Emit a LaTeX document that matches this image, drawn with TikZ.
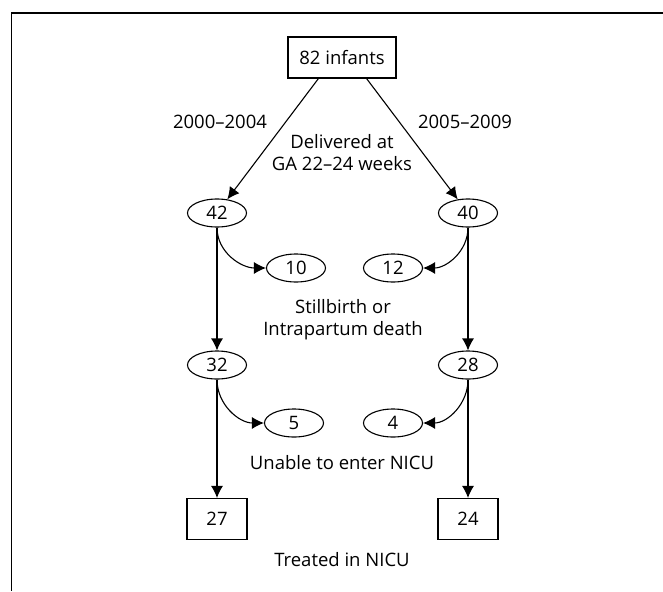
\documentclass[tikz,border=0pt]{standalone}
\usepackage{fontspec}
\setmainfont{Open Sans}
\usetikzlibrary{arrows.meta,shapes.geometric}

\begin{document}
\begin{tikzpicture}[x=1pt,y=-1pt,line width=1.1pt,
    every node/.style={font=\fontsize{18.5}{22}\selectfont}]
        \useasboundingbox (0,0) rectangle (663,591);
        \draw (663,13) -- (11.5,13) -- (11.5,591);

        \begin{scope}[every node/.append style={rectangle, draw, inner sep=0pt, minimum height=41pt}]
        \node[minimum width=108pt] (infants) at (342,57.5) {82 infants};
        \node[minimum width=60pt] (n27) at (217,519) {27};
        \node[minimum width=60pt] (n24) at (468,519) {24};
        \end{scope}

        \begin{scope}[every node/.append style={ellipse, draw, inner sep=0pt,
            minimum width=59pt, minimum height=28pt}]
        \node (n42) at (217,213) {42};
        \node (n40) at (468,213) {40};
        \node (n10) at (296,268) {10};
        \node (n12) at (393,268) {12};
        \node (n32) at (217,365) {32};
        \node (n28) at (468,365) {28};
        \node (n5) at (294,423) {5};
        \node (n4) at (393,423) {4};
        \end{scope}

        \node (yearsA) at (220,122) {2000--2004};
        \node (yearsB) at (465,122) {2005--2009};
        \node[align=center] (delivered) at (342,153) {Delivered at\\GA 22--24 weeks};
        \node[align=center] (stillbirth) at (343,320) {Stillbirth or\\Intrapartum death};
        \node (unable) at (342,463) {Unable to enter NICU};
        \node (treated) at (342,560) {Treated in NICU};

        \begin{scope}[>={Latex[length=12pt,width=12pt]}]
        \path [->] ([xshift=31pt]infants.south west) edge (n42);
        \path [->] ([xshift=-30pt]infants.south east) edge (n40);
        \path [->] (n42.south) edge[out=-90,in=180] (n10.west);
        \path [->] (n40.south) edge[out=-90,in=0] (n12.east);
        \path [->] (n42) edge (n32);
        \path [->] (n40) edge (n28);
        \path [->] (n32.south) edge[out=-90,in=180] (n5.west);
        \path [->] (n28.south) edge[out=-90,in=0] (n4.east);
        \path [->] (n32) edge (n27);
        \path [->] (n28) edge (n24);
        \end{scope}
    \end{tikzpicture}
\end{document}
